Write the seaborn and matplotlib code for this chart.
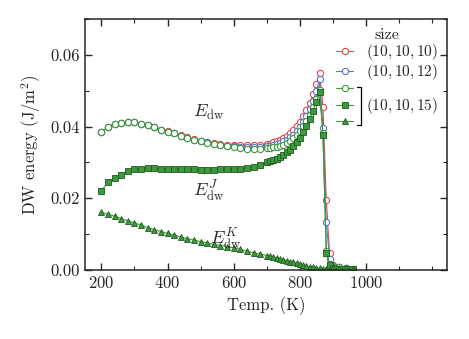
import numpy as np
import pandas as pd
import matplotlib
matplotlib.use("Agg")
import matplotlib.pyplot as plt
from matplotlib.ticker import MultipleLocator
import seaborn as sns

temp = [200, 220, 240, 260, 280, 300, 320, 340, 360, 380, 400, 420, 440, 460, 480,
        500, 520, 540, 560, 580, 600, 620, 640, 660, 680, 700, 710, 720, 730, 740,
        750, 760, 770, 780, 790, 800, 810, 820, 830, 840, 850, 860, 870, 880, 890,
        900, 920, 940, 960]

# E_dw for (10,10,10)
e_dw_10 = [0.0384, 0.0400, 0.0407, 0.0410, 0.0413, 0.0412, 0.0408, 0.0404, 0.0398, 0.0392,
           0.0387, 0.0382, 0.0376, 0.0370, 0.0365, 0.0361, 0.0357, 0.0354, 0.0351, 0.0350,
           0.0349, 0.0348, 0.0348, 0.0348, 0.0349, 0.0351, 0.0353, 0.0356, 0.0359, 0.0363,
           0.0368, 0.0374, 0.0381, 0.0390, 0.0401, 0.0414, 0.0430, 0.0447, 0.0466, 0.0490,
           0.0520, 0.0550, 0.0456, 0.0195, 0.0046, 0.0013, 0.0008, 0.0005, 0.0003]

# E_dw for (10,10,12)
e_dw_12 = [0.0384, 0.0400, 0.0407, 0.0410, 0.0413, 0.0412, 0.0408, 0.0404, 0.0398, 0.0392,
           0.0386, 0.0381, 0.0375, 0.0369, 0.0364, 0.0360, 0.0356, 0.0352, 0.0349, 0.0347,
           0.0345, 0.0343, 0.0342, 0.0342, 0.0343, 0.0345, 0.0347, 0.0349, 0.0352, 0.0355,
           0.0359, 0.0364, 0.0370, 0.0378, 0.0388, 0.0400, 0.0414, 0.0430, 0.0450, 0.0472,
           0.0500, 0.0532, 0.0397, 0.0134, 0.0030, 0.0012, 0.0008, 0.0005, 0.0003]

# (10,10,15): total, exchange part J, anisotropy part K
e_dw_15 = [0.0384, 0.0400, 0.0407, 0.0410, 0.0413, 0.0412, 0.0408, 0.0404, 0.0398, 0.0392,
           0.0386, 0.0381, 0.0375, 0.0369, 0.0364, 0.0359, 0.0355, 0.0351, 0.0348, 0.0345,
           0.0343, 0.0340, 0.0338, 0.0337, 0.0338, 0.0340, 0.0341, 0.0342, 0.0344, 0.0347,
           0.0350, 0.0355, 0.0361, 0.0368, 0.0377, 0.0388, 0.0401, 0.0416, 0.0434, 0.0454,
           0.0478, 0.0503, 0.0382, 0.0052, 0.0016, 0.0009, 0.0008, 0.0005, 0.0003]

e_j_15 = [0.0221, 0.0245, 0.0257, 0.0266, 0.0276, 0.0281, 0.0283, 0.0284, 0.0284, 0.0283,
          0.0283, 0.0282, 0.0282, 0.0281, 0.0281, 0.0280, 0.0280, 0.0280, 0.0281, 0.0281,
          0.0282, 0.0283, 0.0285, 0.0288, 0.0293, 0.0300, 0.0303, 0.0306, 0.0310, 0.0315,
          0.0321, 0.0328, 0.0336, 0.0345, 0.0356, 0.0368, 0.0384, 0.0402, 0.0422, 0.0445,
          0.0470, 0.0496, 0.0377, 0.0048, 0.0014, 0.0006, 0.0003, 0.0002, 0.0001]

e_k_15 = [0.0161, 0.0155, 0.0150, 0.0143, 0.0137, 0.0131, 0.0125, 0.0118, 0.0112, 0.0107,
          0.0102, 0.0097, 0.0092, 0.0087, 0.0083, 0.0079, 0.0075, 0.0071, 0.0068, 0.0065,
          0.0062, 0.0057, 0.0052, 0.0048, 0.0044, 0.0040, 0.0038, 0.0035, 0.0033, 0.0030,
          0.0028, 0.0026, 0.0023, 0.0021, 0.0018, 0.0015, 0.0013, 0.0011, 0.0009, 0.0007,
          0.0005, 0.0004, 0.0003, 0.0002, 0.0002, 0.0004, 0.0006, 0.0004, 0.0002]

size_labels = ["$(10,10,10)$", "$(10,10,12)$", "$(10,10,15)$"]

df = pd.DataFrame({"temp": temp, "e10": e_dw_10, "e12": e_dw_12,
                   "e15": e_dw_15, "j15": e_j_15, "k15": e_k_15})

sns.set_style("ticks")
plt.rcParams["font.family"] = "serif"
plt.rcParams["font.serif"] = ["cmr10", "DejaVu Serif"]
plt.rcParams["mathtext.fontset"] = "cm"
plt.rcParams["axes.formatter.use_mathtext"] = True
plt.rcParams["font.size"] = 12

red = "#e8464a"
blue = "#5878d0"
green = "#3c9a3c"
dkgreen = "#1f5a1f"

fig, ax = plt.subplots(figsize=(4.69, 3.39), dpi=100)
fig.subplots_adjust(left=0.181, right=0.953, bottom=0.204, top=0.943)

sns.lineplot(data=df, x="temp", y="e10", ax=ax, color=red, lw=0.8, marker="o",
             markersize=4.5, markerfacecolor="white", markeredgecolor=red, markeredgewidth=0.8)
sns.lineplot(data=df, x="temp", y="e12", ax=ax, color=blue, lw=0.8, marker="o",
             markersize=4.5, markerfacecolor="white", markeredgecolor=blue, markeredgewidth=0.8)
sns.lineplot(data=df, x="temp", y="e15", ax=ax, color=green, lw=0.8, marker="o",
             markersize=4.5, markerfacecolor="white", markeredgecolor=green, markeredgewidth=0.8)
sns.lineplot(data=df, x="temp", y="j15", ax=ax, color=green, lw=0.8, marker="s",
             markersize=4, markerfacecolor=green, markeredgecolor=dkgreen, markeredgewidth=0.6)
sns.lineplot(data=df, x="temp", y="k15", ax=ax, color=green, lw=0.8, marker="^",
             markersize=4, markerfacecolor=green, markeredgecolor=dkgreen, markeredgewidth=0.6)

ax.set_xlim(150, 1245)
ax.set_ylim(0, 0.07)
ax.set_xticks([200, 400, 600, 800, 1000])
ax.xaxis.set_minor_locator(MultipleLocator(100))
ax.set_yticks([0.0, 0.02, 0.04, 0.06])
ax.yaxis.set_minor_locator(MultipleLocator(0.01))
ax.set_yticklabels(["0.00", "0.02", "0.04", "0.06"])
ax.tick_params(which="both", direction="in", top=True, right=True, labelsize=12)
ax.tick_params(which="major", length=5, width=1.0)
ax.tick_params(which="minor", length=3, width=0.8)
for s in ax.spines.values():
    s.set_linewidth(1.1)

ax.set_xlabel("Temp. (K)", fontsize=12)
ax.set_ylabel(r"DW energy $(\mathrm{J/m^2})$", fontsize=12, labelpad=5)

ax.text(523, 0.0441, r"$E_\mathrm{dw}$", fontsize=13, ha="center", va="center")
ax.text(523, 0.0218, r"$E^J_\mathrm{dw}$", fontsize=13, ha="center", va="center")
ax.text(575, 0.0084, r"$E^K_\mathrm{dw}$", fontsize=13, ha="center", va="center")

handles = ax.get_lines()[:5]
labels = [size_labels[0], size_labels[1], " ", size_labels[2], " "]
leg = ax.legend(handles, labels, title="size", loc="upper right",
                bbox_to_anchor=(1.0, 1.0), frameon=False, fontsize=11,
                title_fontsize=11.5, handlelength=1.15, handletextpad=0.8,
                labelspacing=0.0, borderaxespad=0.3, borderpad=0.3)

fig.canvas.draw()
renderer = fig.canvas.get_renderer()
inv = ax.transAxes.inverted()
texts = leg.get_texts()
b0 = texts[0].get_window_extent(renderer)
b1 = texts[1].get_window_extent(renderer)
b3 = texts[3].get_window_extent(renderer)
step = (b0.y0 + b0.y1) / 2 - (b1.y0 + b1.y1) / 2
yc = (b3.y0 + b3.y1) / 2
xb = b3.x0 - 5
(x0, ytop) = inv.transform((xb - 4, yc + step * 0.95))
(x1, ybot) = inv.transform((xb, yc - step * 0.95))
ax.plot([x0, x1, x1, x0], [ytop, ytop, ybot, ybot], color="black", lw=0.9,
        transform=ax.transAxes, clip_on=False)

fig.savefig("out.png", dpi=100)
